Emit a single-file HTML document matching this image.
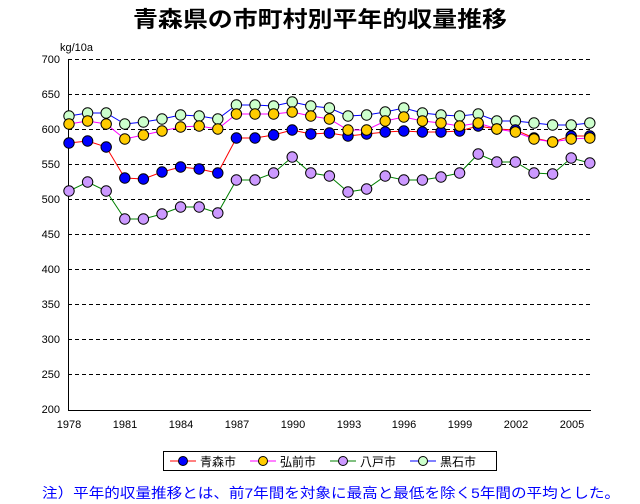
<!DOCTYPE html>
<html><head><meta charset="utf-8"><style>body{margin:0;background:#fff}svg{display:block}</style></head><body>
<svg width="640" height="504" xmlns="http://www.w3.org/2000/svg" xmlns:xlink="http://www.w3.org/1999/xlink" font-family="Liberation Sans, Noto Sans CJK JP, sans-serif">
<defs>
<circle id="m" cx="0" cy="0" r="5.2" stroke="#000" stroke-width="1"/>
</defs>
<rect width="640" height="504" fill="#fff"/>
<text x="133" y="27" font-size="22" font-weight="bold" textLength="374" lengthAdjust="spacingAndGlyphs">青森県の市町村別平年的収量推移</text>
<text x="60" y="51" font-size="11">kg/10a</text>
<g stroke="#000" stroke-dasharray="4,3" stroke-width="1">
<line x1="68" x2="591" y1="59.5" y2="59.5"/><line x1="68" x2="591" y1="94.5" y2="94.5"/><line x1="68" x2="591" y1="129.5" y2="129.5"/><line x1="68" x2="591" y1="164.5" y2="164.5"/><line x1="68" x2="591" y1="199.5" y2="199.5"/><line x1="68" x2="591" y1="234.5" y2="234.5"/><line x1="68" x2="591" y1="269.5" y2="269.5"/><line x1="68" x2="591" y1="304.5" y2="304.5"/><line x1="68" x2="591" y1="339.5" y2="339.5"/><line x1="68" x2="591" y1="374.5" y2="374.5"/>
</g>
<g stroke="#000"><line x1="68.5" y1="59" x2="68.5" y2="410"/><line x1="68" y1="410.5" x2="591" y2="410.5"/></g>
<g font-size="11" text-anchor="end">
<text x="60" y="63">700</text><text x="60" y="98">650</text><text x="60" y="133">600</text><text x="60" y="168">550</text><text x="60" y="203">500</text><text x="60" y="238">450</text><text x="60" y="273">400</text><text x="60" y="308">350</text><text x="60" y="343">300</text><text x="60" y="378">250</text><text x="60" y="413">200</text>
</g>
<g font-size="11" text-anchor="middle">
<text x="69" y="428">1978</text><text x="125" y="428">1981</text><text x="181" y="428">1984</text><text x="237" y="428">1987</text><text x="293" y="428">1990</text><text x="349" y="428">1993</text><text x="404" y="428">1996</text><text x="460" y="428">1999</text><text x="516" y="428">2002</text><text x="572" y="428">2005</text>
</g>
<g fill="none" stroke-width="1">
<polyline stroke="green" points="69,191 87.6,182 106.2,191 124.8,219 143.4,219 162,214 180.6,207 199.2,207 217.8,213 236.4,180 255,180 273.6,173 292.2,157 310.8,173 329.4,176 348,192 366.6,189 385.2,176 403.8,180 422.4,180 441,177 459.6,173 478.2,154 496.8,162 515.4,162 534,173 552.6,174 571.2,158 589.8,163"/>
<polyline stroke="blue" points="69,116 87.6,113 106.2,113 124.8,124 143.4,122 162,119 180.6,115 199.2,116 217.8,119 236.4,105 255,105 273.6,106 292.2,102 310.8,106 329.4,108 348,116 366.6,115 385.2,112 403.8,108 422.4,113 441,115 459.6,116 478.2,114 496.8,121 515.4,121 534,123 552.6,125 571.2,125 589.8,123"/>
<polyline stroke="red" points="69,143 87.6,141 106.2,147 124.8,178 143.4,179 162,172 180.6,167 199.2,169 217.8,173 236.4,138 255,138 273.6,135 292.2,130 310.8,134 329.4,133 348,136 366.6,134 385.2,132 403.8,131 422.4,132 441,132 459.6,131 478.2,126 496.8,129 515.4,130 534,138 552.6,142 571.2,136 589.8,136"/>
<polyline stroke="#f0f" points="69,124 87.6,121 106.2,124 124.8,139 143.4,135 162,131 180.6,127 199.2,126 217.8,129 236.4,114 255,114 273.6,114 292.2,112 310.8,116 329.4,119 348,130 366.6,130 385.2,121 403.8,117 422.4,121 441,123 459.6,126 478.2,123 496.8,129 515.4,132 534,139 552.6,142 571.2,139 589.8,138"/>
</g>
<g fill="#c9f">
<use xlink:href="#m" x="69" y="191"/><use xlink:href="#m" x="87.6" y="182"/><use xlink:href="#m" x="106.2" y="191"/><use xlink:href="#m" x="124.8" y="219"/><use xlink:href="#m" x="143.4" y="219"/><use xlink:href="#m" x="162" y="214"/><use xlink:href="#m" x="180.6" y="207"/><use xlink:href="#m" x="199.2" y="207"/><use xlink:href="#m" x="217.8" y="213"/><use xlink:href="#m" x="236.4" y="180"/><use xlink:href="#m" x="255" y="180"/><use xlink:href="#m" x="273.6" y="173"/><use xlink:href="#m" x="292.2" y="157"/><use xlink:href="#m" x="310.8" y="173"/><use xlink:href="#m" x="329.4" y="176"/><use xlink:href="#m" x="348" y="192"/><use xlink:href="#m" x="366.6" y="189"/><use xlink:href="#m" x="385.2" y="176"/><use xlink:href="#m" x="403.8" y="180"/><use xlink:href="#m" x="422.4" y="180"/><use xlink:href="#m" x="441" y="177"/><use xlink:href="#m" x="459.6" y="173"/><use xlink:href="#m" x="478.2" y="154"/><use xlink:href="#m" x="496.8" y="162"/><use xlink:href="#m" x="515.4" y="162"/><use xlink:href="#m" x="534" y="173"/><use xlink:href="#m" x="552.6" y="174"/><use xlink:href="#m" x="571.2" y="158"/><use xlink:href="#m" x="589.8" y="163"/>
</g>
<g fill="#cfc">
<use xlink:href="#m" x="69" y="116"/><use xlink:href="#m" x="87.6" y="113"/><use xlink:href="#m" x="106.2" y="113"/><use xlink:href="#m" x="124.8" y="124"/><use xlink:href="#m" x="143.4" y="122"/><use xlink:href="#m" x="162" y="119"/><use xlink:href="#m" x="180.6" y="115"/><use xlink:href="#m" x="199.2" y="116"/><use xlink:href="#m" x="217.8" y="119"/><use xlink:href="#m" x="236.4" y="105"/><use xlink:href="#m" x="255" y="105"/><use xlink:href="#m" x="273.6" y="106"/><use xlink:href="#m" x="292.2" y="102"/><use xlink:href="#m" x="310.8" y="106"/><use xlink:href="#m" x="329.4" y="108"/><use xlink:href="#m" x="348" y="116"/><use xlink:href="#m" x="366.6" y="115"/><use xlink:href="#m" x="385.2" y="112"/><use xlink:href="#m" x="403.8" y="108"/><use xlink:href="#m" x="422.4" y="113"/><use xlink:href="#m" x="441" y="115"/><use xlink:href="#m" x="459.6" y="116"/><use xlink:href="#m" x="478.2" y="114"/><use xlink:href="#m" x="496.8" y="121"/><use xlink:href="#m" x="515.4" y="121"/><use xlink:href="#m" x="534" y="123"/><use xlink:href="#m" x="552.6" y="125"/><use xlink:href="#m" x="571.2" y="125"/><use xlink:href="#m" x="589.8" y="123"/>
</g>
<g fill="#0000ff">
<use xlink:href="#m" x="69" y="143"/><use xlink:href="#m" x="87.6" y="141"/><use xlink:href="#m" x="106.2" y="147"/><use xlink:href="#m" x="124.8" y="178"/><use xlink:href="#m" x="143.4" y="179"/><use xlink:href="#m" x="162" y="172"/><use xlink:href="#m" x="180.6" y="167"/><use xlink:href="#m" x="199.2" y="169"/><use xlink:href="#m" x="217.8" y="173"/><use xlink:href="#m" x="236.4" y="138"/><use xlink:href="#m" x="255" y="138"/><use xlink:href="#m" x="273.6" y="135"/><use xlink:href="#m" x="292.2" y="130"/><use xlink:href="#m" x="310.8" y="134"/><use xlink:href="#m" x="329.4" y="133"/><use xlink:href="#m" x="348" y="136"/><use xlink:href="#m" x="366.6" y="134"/><use xlink:href="#m" x="385.2" y="132"/><use xlink:href="#m" x="403.8" y="131"/><use xlink:href="#m" x="422.4" y="132"/><use xlink:href="#m" x="441" y="132"/><use xlink:href="#m" x="459.6" y="131"/><use xlink:href="#m" x="478.2" y="126"/><use xlink:href="#m" x="496.8" y="129"/><use xlink:href="#m" x="515.4" y="130"/><use xlink:href="#m" x="534" y="138"/><use xlink:href="#m" x="552.6" y="142"/><use xlink:href="#m" x="571.2" y="136"/><use xlink:href="#m" x="589.8" y="136"/>
</g>
<g fill="#fc0">
<use xlink:href="#m" x="69" y="124"/><use xlink:href="#m" x="87.6" y="121"/><use xlink:href="#m" x="106.2" y="124"/><use xlink:href="#m" x="124.8" y="139"/><use xlink:href="#m" x="143.4" y="135"/><use xlink:href="#m" x="162" y="131"/><use xlink:href="#m" x="180.6" y="127"/><use xlink:href="#m" x="199.2" y="126"/><use xlink:href="#m" x="217.8" y="129"/><use xlink:href="#m" x="236.4" y="114"/><use xlink:href="#m" x="255" y="114"/><use xlink:href="#m" x="273.6" y="114"/><use xlink:href="#m" x="292.2" y="112"/><use xlink:href="#m" x="310.8" y="116"/><use xlink:href="#m" x="329.4" y="119"/><use xlink:href="#m" x="348" y="130"/><use xlink:href="#m" x="366.6" y="130"/><use xlink:href="#m" x="385.2" y="121"/><use xlink:href="#m" x="403.8" y="117"/><use xlink:href="#m" x="422.4" y="121"/><use xlink:href="#m" x="441" y="123"/><use xlink:href="#m" x="459.6" y="126"/><use xlink:href="#m" x="478.2" y="123"/><use xlink:href="#m" x="496.8" y="129"/><use xlink:href="#m" x="515.4" y="132"/><use xlink:href="#m" x="534" y="139"/><use xlink:href="#m" x="552.6" y="142"/><use xlink:href="#m" x="571.2" y="139"/><use xlink:href="#m" x="589.8" y="138"/>
</g>
<rect x="163.5" y="451.5" width="333" height="19" fill="#fff" stroke="#000"/>
<g font-size="12">
<line x1="170" x2="196" y1="461" y2="461" stroke="red"/><circle cx="183" cy="461" r="4.5" fill="#0000ff" stroke="#000"/><text x="200" y="466">青森市</text>
<line x1="250" x2="276" y1="461" y2="461" stroke="#f0f"/><circle cx="263" cy="461" r="4.5" fill="#fc0" stroke="#000"/><text x="280" y="466">弘前市</text>
<line x1="330" x2="356" y1="461" y2="461" stroke="green"/><circle cx="343" cy="461" r="4.5" fill="#c9f" stroke="#000"/><text x="360" y="466">八戸市</text>
<line x1="410" x2="436" y1="461" y2="461" stroke="blue"/><circle cx="423" cy="461" r="4.5" fill="#cfc" stroke="#000"/><text x="440" y="466">黒石市</text>
</g>
<text x="42" y="498" font-size="14" fill="#0000ff" textLength="578" lengthAdjust="spacingAndGlyphs">注）平年的収量推移とは、前7年間を対象に最高と最低を除く5年間の平均とした。</text>
</svg>
</body></html>
